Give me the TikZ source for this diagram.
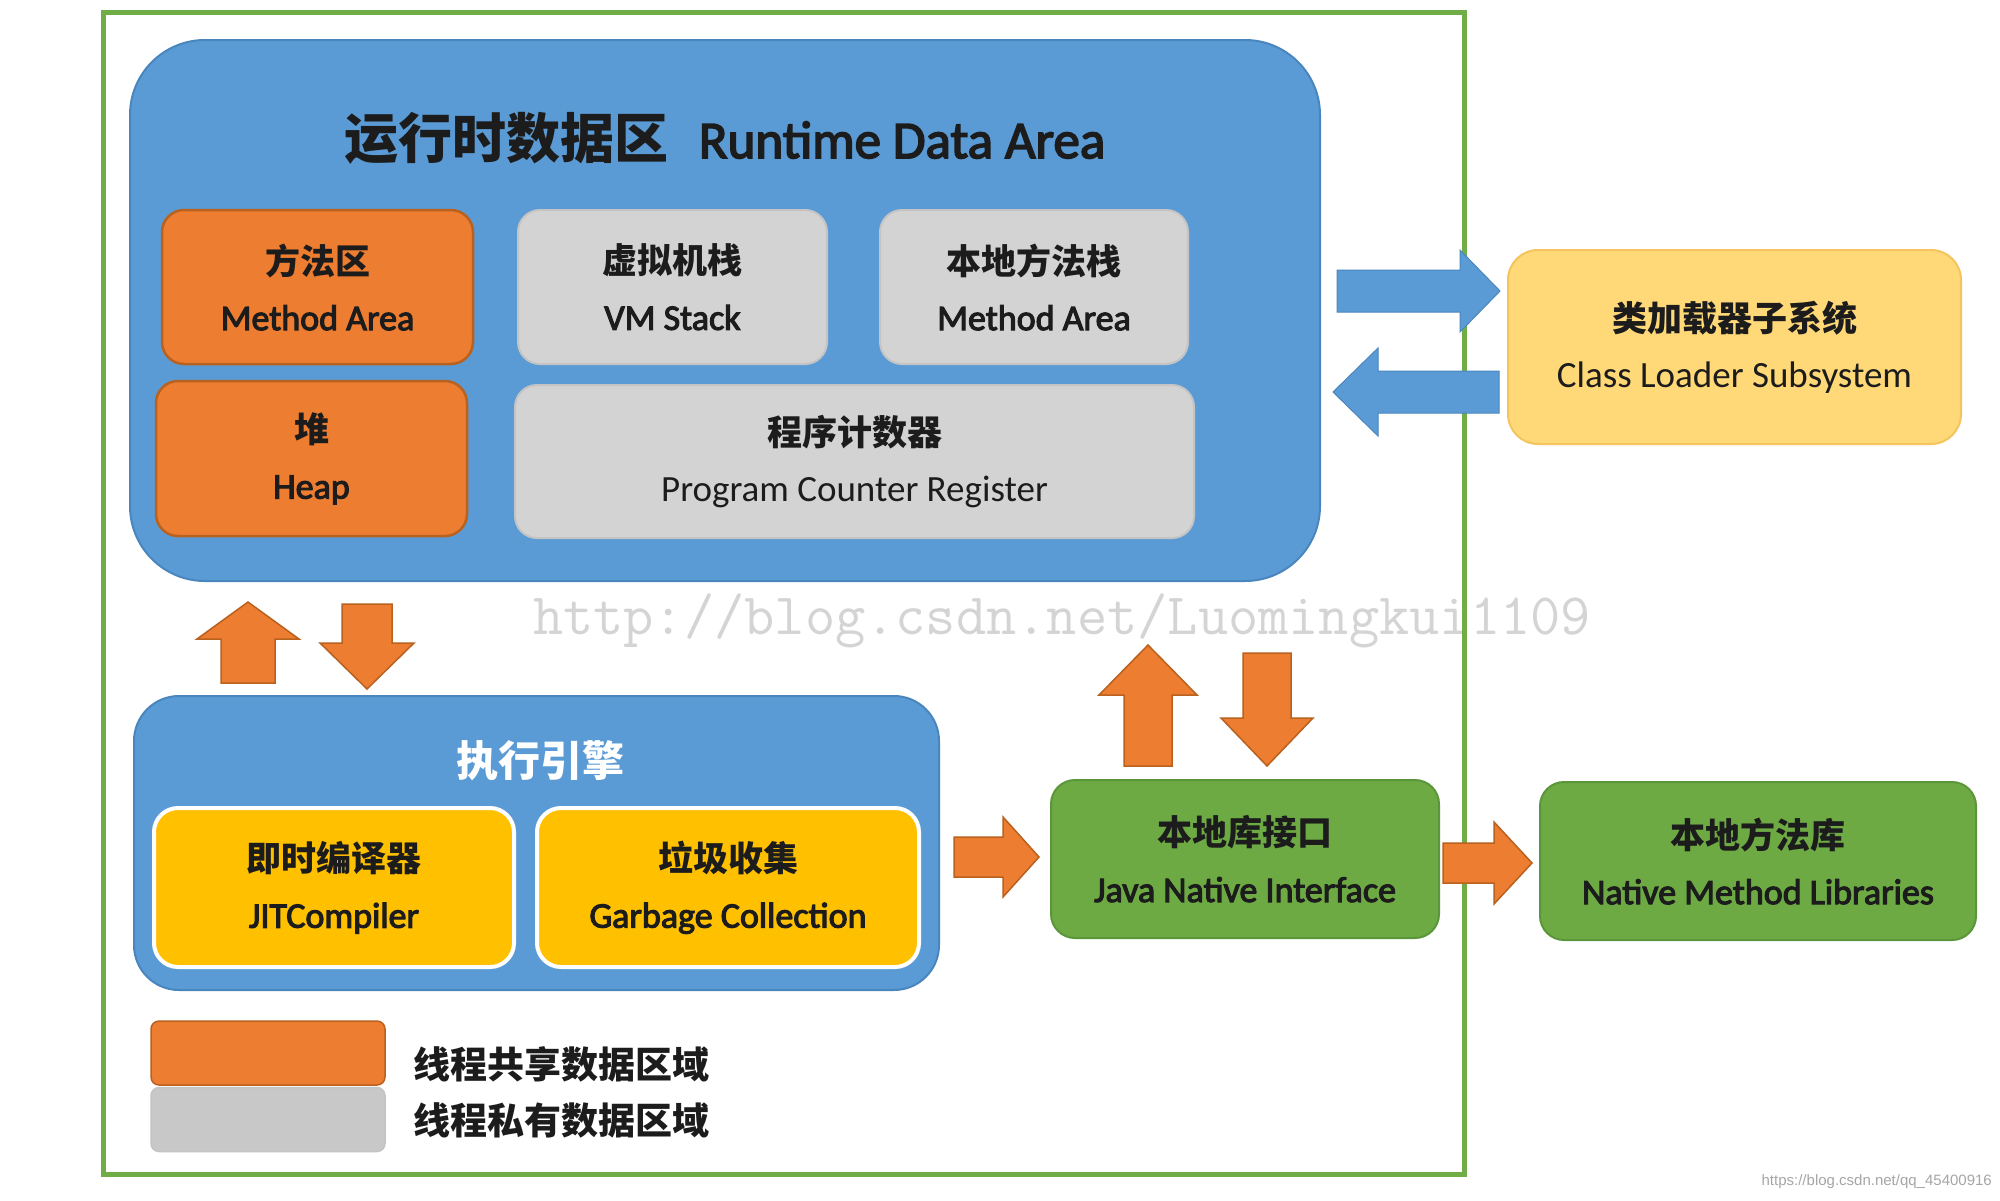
\documentclass[tikz,border=0pt]{standalone}
\usepackage{fontspec}
\setmainfont{Carlito}
\newfontfamily\lb{Carlito}[FakeBold=3]
\newfontfamily\cjk{Noto Sans CJK SC}
\newfontfamily\wmsans{Liberation Sans}
\usetikzlibrary{calc}
\definecolor{frameG}{HTML}{70AD47}
\definecolor{bluef}{HTML}{5B9BD5}
\definecolor{blued}{HTML}{4A86BE}
\definecolor{orf}{HTML}{ED7D31}
\definecolor{ord}{HTML}{B9611F}
\definecolor{grf}{HTML}{D3D3D3}
\definecolor{grd}{HTML}{C4C4C4}
\definecolor{lgg}{HTML}{C8C8C8}
\definecolor{yef}{HTML}{FFC000}
\definecolor{gnf}{HTML}{6DAA44}
\definecolor{gnd}{HTML}{5C963A}
\definecolor{clf}{HTML}{FFD878}
\definecolor{cld}{HTML}{F4C55E}
\definecolor{txt}{HTML}{1C1C1C}
\definecolor{wm}{HTML}{D4D4D4}
\newcommand{\blockarrow}[6]{%
  \coordinate (ba-h) at ($(#3)!#6pt!(#2)$);
  \path[#1] ($(#2)!#4pt!90:(#3)$) -- ($(ba-h)!#4pt!-90:(#2)$) -- ($(ba-h)!#5pt!-90:(#2)$) -- (#3)
    -- ($(ba-h)!#5pt!90:(#2)$) -- ($(ba-h)!#4pt!90:(#2)$) -- ($(#2)!#4pt!-90:(#3)$) -- cycle;
}
\newcommand{\two}[2]{{\cjk\bfseries\fontsize{35}{56}\selectfont #1}\\#2}
\tikzset{
  boxbase/.style={rectangle, anchor=center, align=center, inner sep=0pt, text=txt,
    font=\lb\fontsize{36}{56}\selectfont},
  region/.style={rectangle, fill=bluef, draw=blued, line width=2pt, inner sep=0pt},
  shared/.style={boxbase, fill=orf, draw=ord, line width=2.5pt, rounded corners=22pt},
  private/.style={boxbase, fill=grf, draw=grd, line width=2pt, rounded corners=22pt},
  engine/.style={boxbase, fill=yef, draw=white, line width=4pt, rounded corners=24pt},
  native/.style={boxbase, fill=gnf, draw=gnd, line width=2pt, rounded corners=24pt},
  loader/.style={boxbase, fill=clf, draw=cld, line width=2pt, rounded corners=30pt},
  legendbox/.style={rectangle, inner sep=0pt, minimum width=234pt, minimum height=64pt, rounded corners=8pt, line width=1.5pt},
  legendtxt/.style={anchor=west, inner sep=0pt, text=txt, font=\cjk\bfseries\fontsize{37}{40}\selectfont},
  barrow/.style={fill=bluef, draw=blued, line width=1pt},
  oarrow/.style={fill=orf, draw=ord, line width=1.5pt},
}
\begin{document}
\begin{tikzpicture}[x=1pt,y=-1pt]
\useasboundingbox (0,0) rectangle (2000,1200);
\fill[white] (0,0) rectangle (2000,1200);

% watermark
\node[font=\ttfamily\fontsize{58.7}{60}\selectfont, text=wm, inner sep=0pt] (wmk) at (1062,621) {http://blog.csdn.net/Luomingkui1109};
\node[anchor=east, inner sep=0pt, font=\wmsans\fontsize{15}{16}\selectfont, text=gray!70] (wm2) at (1992,1182) {https://blog.csdn.net/qq\_45400916};

% outer frame
\node[draw=frameG, line width=5pt, minimum width=1361pt, minimum height=1162pt, inner sep=0pt] (frame) at (783.5,593) {};

% runtime data area
\node[region, rounded corners=75pt, minimum width=1190pt, minimum height=541pt] (rda) at (725,310.5) {};
\node[inner sep=0pt, text=txt, font=\lb\fontsize{53}{60}\selectfont] (rdat) at (725,138)
  {{\cjk\bfseries\fontsize{54}{60}\selectfont 运行时数据区}\hspace{30pt}Runtime Data Area};

\node[shared, minimum width=311pt, minimum height=154pt] (ma) at (317.5,287) {\two{方法区}{Method Area}};
\node[private, minimum width=309pt, minimum height=154pt] (vms) at (672.5,287) {\two{虚拟机栈}{VM Stack}};
\node[private, minimum width=308pt, minimum height=154pt] (nms) at (1034,287) {\two{本地方法栈}{Method Area}};
\node[shared, minimum width=311pt, minimum height=155pt] (heap) at (311.5,458.5) {\two{堆}{Heap}};
\node[private, minimum width=679pt, minimum height=153pt] (pcr) at (854.5,461.5) {\two{程序计数器}{\rmfamily\fontsize{37}{56}\selectfont Program Counter Register}};

% class loader
\node[loader, minimum width=453pt, minimum height=194pt] (cls) at (1734.5,347) {\two{类加载器子系统}{\rmfamily\fontsize{37}{56}\selectfont Class Loader Subsystem}};

% execution engine
\node[region, rounded corners=45pt, minimum width=805pt, minimum height=294pt] (ee) at (536.5,843) {};
\node[inner sep=0pt, text=white, font=\cjk\bfseries\fontsize{42}{50}\selectfont] (eet) at (540,761) {执行引擎};
\node[engine, minimum width=360pt, minimum height=159pt] (jit) at (334,887.5) {\two{即时编译器}{JITCompiler}};
\node[engine, minimum width=382pt, minimum height=159pt] (gc) at (728,887.5) {\two{垃圾收集}{Garbage Collection}};

% native
\node[native, minimum width=388pt, minimum height=158pt] (jni) at (1245,859) {\two{本地库接口}{Java Native Interface}};
\node[native, minimum width=436pt, minimum height=158pt] (nml) at (1758,861) {\two{本地方法库}{Native Method Libraries}};

% legend
\node[legendbox, fill=orf, draw=ord] (lgs) at (268,1053) {};
\node[legendbox, fill=lgg, draw=grd] (lgp) at (268,1119.5) {};
\node[legendtxt] (lgst) at (413,1064) {线程共享数据区域};
\node[legendtxt] (lgpt) at (413,1120) {线程私有数据区域};

% block arrows
\coordinate (c1a) at (1337,291); \coordinate (c1b) at (1500,291);
\blockarrow{barrow}{c1a}{c1b}{21}{41}{40}
\coordinate (c2a) at (1499,392); \coordinate (c2b) at (1333,392);
\blockarrow{barrow}{c2a}{c2b}{21}{44}{45}
\coordinate (u1a) at (248,683); \coordinate (u1b) at (248,602);
\blockarrow{oarrow}{u1a}{u1b}{27}{51}{37}
\coordinate (d1a) at (367,604); \coordinate (d1b) at (367,689);
\blockarrow{oarrow}{d1a}{d1b}{25}{47}{46}
\coordinate (r1a) at (954,857); \coordinate (r1b) at (1039,857);
\blockarrow{oarrow}{r1a}{r1b}{20}{40}{36}
\coordinate (r2a) at (1443,863); \coordinate (r2b) at (1532,863);
\blockarrow{oarrow}{r2a}{r2b}{20}{41}{38}
\coordinate (u2a) at (1148,766); \coordinate (u2b) at (1148,645);
\blockarrow{oarrow}{u2a}{u2b}{24}{49}{50}
\coordinate (d2a) at (1267,653); \coordinate (d2b) at (1267,766);
\blockarrow{oarrow}{d2a}{d2b}{24}{46}{48}
\end{tikzpicture}
\end{document}
